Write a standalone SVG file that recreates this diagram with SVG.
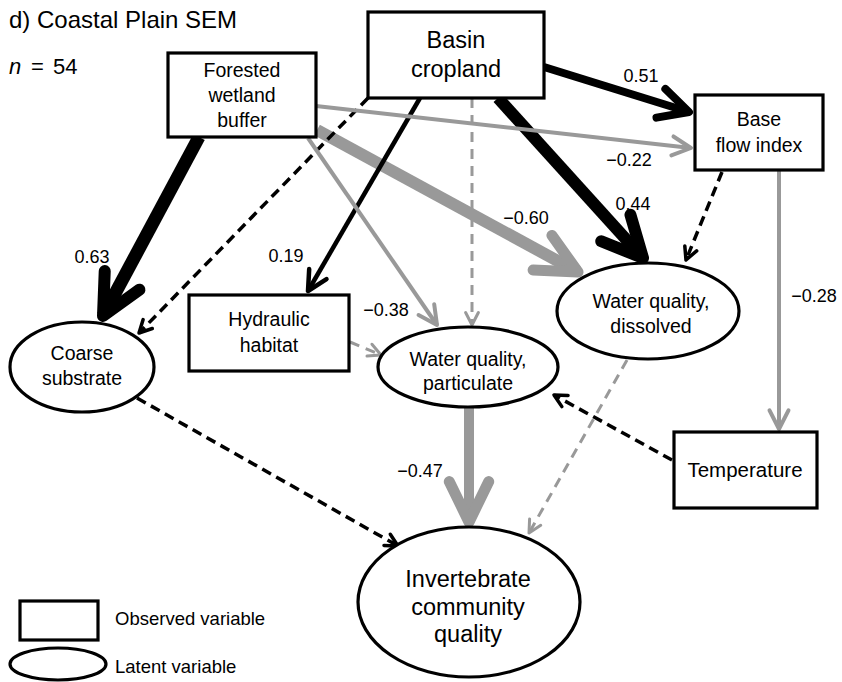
<svg xmlns="http://www.w3.org/2000/svg" width="842" height="682" viewBox="0 0 842 682">
<style>
text{font-family:"Liberation Sans",Arial,Helvetica,sans-serif;fill:#000}
.box{fill:#fff;stroke:#000;stroke-width:3.2}
.ell{fill:#fff;stroke:#000;stroke-width:3.2}
.nt{font-size:19.5px;text-anchor:middle}
.big{font-size:23.5px}
.tmp{font-size:20.5px}
.coef{font-size:18px;text-anchor:middle}
.leg{font-size:18.5px}
.k{fill:none;stroke:#000;stroke-linecap:butt}
.g{fill:none;stroke:#999;stroke-linecap:butt}
.dk{fill:none;stroke:#000;stroke-width:3.5;stroke-dasharray:10 6}
.dg{fill:none;stroke:#999;stroke-width:3;stroke-dasharray:10 7}
.ah{fill:none;stroke-linecap:round;stroke-linejoin:round}
marker{overflow:visible}
</style>
<defs>
<marker id="bigK" markerUnits="userSpaceOnUse" orient="auto" markerWidth="1" markerHeight="1" overflow="visible"><path class="ah" d="M-40.4,-19.7 L0,0 L-40.4,19.7" stroke="#000" stroke-width="12"/></marker>
<marker id="bigG" markerUnits="userSpaceOnUse" orient="auto" markerWidth="1" markerHeight="1" overflow="visible"><path class="ah" d="M-40.4,-19.7 L0,0 L-40.4,19.7" stroke="#999" stroke-width="11"/></marker>
<marker id="medK" markerUnits="userSpaceOnUse" orient="auto" markerWidth="1" markerHeight="1" overflow="visible"><path class="ah" d="M-29.4,-15 L0,0 L-29.4,15" stroke="#000" stroke-width="8"/></marker>
<marker id="thinK" markerUnits="userSpaceOnUse" orient="auto" markerWidth="1" markerHeight="1" overflow="visible"><path class="ah" d="M-19.6,-10 L0,0 L-19.6,10" stroke="#000" stroke-width="4.5"/></marker>
<marker id="thinG" markerUnits="userSpaceOnUse" orient="auto" markerWidth="1" markerHeight="1" overflow="visible"><path class="ah" d="M-18.7,-9.5 L0,0 L-18.7,9.5" stroke="#999" stroke-width="4"/></marker>
<marker id="dashK" markerUnits="userSpaceOnUse" orient="auto" markerWidth="1" markerHeight="1" overflow="visible"><path class="ah" d="M-12.5,-6.4 L0,0 L-12.5,6.4" stroke="#000" stroke-width="3.5"/></marker>
<marker id="dashG" markerUnits="userSpaceOnUse" orient="auto" markerWidth="1" markerHeight="1" overflow="visible"><path class="ah" d="M-12.5,-6.4 L0,0 L-12.5,6.4" stroke="#999" stroke-width="3"/></marker>
</defs>

<text x="9" y="28" style="font-size:24px">d) Coastal Plain SEM</text>
<text y="74" style="font-size:22px"><tspan x="9" font-style="italic">n</tspan><tspan x="31">=</tspan><tspan x="53">54</tspan></text>

<g id="connectors">
  <path class="g" stroke-width="12" d="M317,130 L578,272" marker-end="url(#bigG)"/>
  <path class="g" stroke-width="10" d="M469,407 L469,522" marker-end="url(#bigG)"/>
  <path class="dg" d="M472,98 L472,325" marker-end="url(#dashG)"/>
  <path class="k" stroke-width="8" d="M544,67 L689,112" marker-end="url(#medK)"/>
  <path class="k" stroke-width="12" d="M498,98 L643,258" marker-end="url(#bigK)"/>
  <path class="k" stroke-width="13" d="M199,137 L103,316" marker-end="url(#bigK)"/>
  <path class="dk" d="M368,98 L139,333" marker-end="url(#dashK)"/>
  <path class="k" stroke-width="4.5" d="M420,98 L308,291" marker-end="url(#thinK)"/>
  <path class="g" stroke-width="4" d="M316,106 L691,148" marker-end="url(#thinG)"/>
  <path class="g" stroke-width="4" d="M308,138 L437,325" marker-end="url(#thinG)"/>
  <path class="g" stroke-width="4" d="M779,170 L779,429" marker-end="url(#thinG)"/>
  <path class="dg" d="M350,342 L381,355" marker-end="url(#dashG)"/>
  <path class="dk" d="M722,172 L686,260" marker-end="url(#dashK)"/>
  <path class="dk" d="M672,460 L554,395" marker-end="url(#dashK)"/>
  <path class="dk" d="M137,398 L398,546" marker-end="url(#dashK)"/>
  <path class="dg" d="M627,360 L529,533" marker-end="url(#dashG)"/>
  <text class="coef" x="641" y="82">0.51</text>
  <text class="coef" x="629" y="166">−0.22</text>
  <text class="coef" x="633" y="210">0.44</text>
  <text class="coef" x="526" y="224">−0.60</text>
  <text class="coef" x="92" y="263">0.63</text>
  <text class="coef" x="286" y="262">0.19</text>
  <text class="coef" x="386" y="316">−0.38</text>
  <text class="coef" x="814" y="302">−0.28</text>
  <text class="coef" x="420" y="477">−0.47</text>
</g>

<g id="forested">
  <rect class="box" x="168" y="53" width="148" height="84"/>
  <text class="nt" x="242" y="77">Forested</text>
  <text class="nt" x="242" y="102">wetland</text>
  <text class="nt" x="242" y="127">buffer</text>
</g>
<g id="basin">
  <rect class="box" x="368" y="12" width="176" height="86"/>
  <text class="nt big" x="456" y="48">Basin</text>
  <text class="nt big" x="456" y="77">cropland</text>
</g>
<g id="baseflow">
  <rect class="box" x="695" y="95" width="128" height="75"/>
  <text class="nt" x="759" y="126">Base</text>
  <text class="nt" x="759" y="152">flow index</text>
</g>
<g id="hydraulic">
  <rect class="box" x="189" y="295" width="160" height="76"/>
  <text class="nt" x="269" y="326">Hydraulic</text>
  <text class="nt" x="269" y="352">habitat</text>
</g>
<g id="coarse">
  <ellipse class="ell" cx="82" cy="367" rx="72" ry="45"/>
  <text class="nt" x="82" y="360">Coarse</text>
  <text class="nt" x="82" y="385">substrate</text>
</g>
<g id="wq-particulate">
  <ellipse class="ell" cx="468" cy="367" rx="90" ry="40"/>
  <text class="nt" x="468" y="366">Water quality,</text>
  <text class="nt" x="468" y="390">particulate</text>
</g>
<g id="wq-dissolved">
  <ellipse class="ell" cx="648" cy="311" rx="91" ry="48"/>
  <text class="nt" x="651" y="308">Water quality,</text>
  <text class="nt" x="651" y="333">dissolved</text>
</g>
<g id="temperature">
  <rect class="box" x="674" y="432" width="143" height="76"/>
  <text class="nt tmp" x="745" y="477">Temperature</text>
</g>
<g id="invertebrate">
  <ellipse class="ell" cx="469" cy="602" rx="111" ry="75"/>
  <text class="nt big" x="468" y="587">Invertebrate</text>
  <text class="nt big" x="468" y="615">community</text>
  <text class="nt big" x="468" y="642">quality</text>
</g>

<g id="legend">
  <rect class="box" x="20" y="601" width="78" height="39"/>
  <text class="leg" x="115" y="625">Observed variable</text>
  <ellipse class="ell" cx="58" cy="664" rx="48" ry="16"/>
  <text class="leg" x="115" y="673">Latent variable</text>
</g>
</svg>
